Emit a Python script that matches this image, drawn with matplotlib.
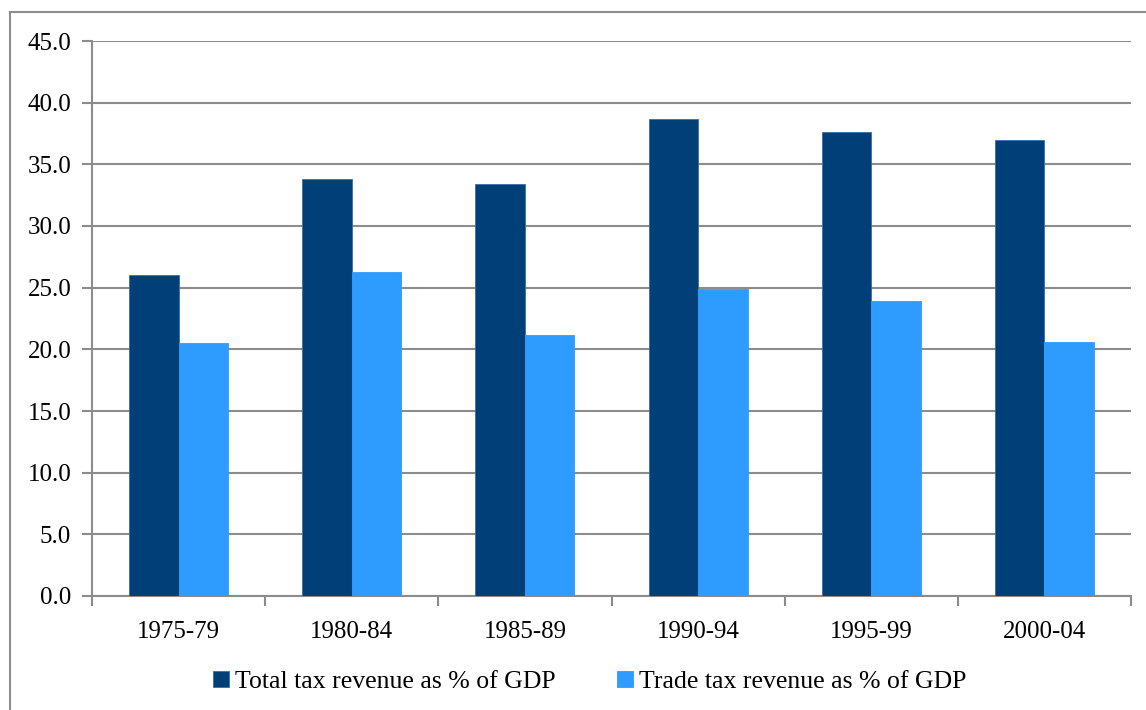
import numpy as np
import matplotlib.pyplot as plt
from matplotlib.lines import Line2D

periods = ["1975-79", "1980-84", "1985-89", "1990-94", "1995-99", "2000-04"]
total_tax = [26.0, 33.8, 33.4, 38.7, 37.6, 37.0]
trade_tax = [20.5, 26.3, 21.2, 24.9, 23.9, 20.6]

plt.rcParams['font.family'] = ['Liberation Serif', 'DejaVu Serif']

fig = plt.figure(figsize=(11.46, 7.10), dpi=100)
ax = fig.add_axes([92 / 1146, 1 - 596 / 710, (1131 - 92) / 1146, (596 - 41) / 710])

# outer chart frame (only left/top visible in the original crop)
fx, fy = 10 / 1146, 1 - 12 / 710
fig.lines.append(Line2D([fx, fx], [0, fy], transform=fig.transFigure, color='#8c8c8c', linewidth=1.5))
fig.lines.append(Line2D([fx, 1], [fy, fy], transform=fig.transFigure, color='#8c8c8c', linewidth=1.5))

x = np.arange(len(periods))
w = 0.286
ax.bar(x - w / 2, total_tax, w, color='#003F78', edgecolor='#3a6fa6', linewidth=0.6,
       label='Total tax revenue as % of GDP', zorder=3)
ax.bar(x + w / 2, trade_tax, w, color='#2E9BFF', edgecolor='#2E9BFF', linewidth=0.6,
       label='Trade tax revenue as % of GDP', zorder=3)

ax.set_xlim(-0.5, len(periods) - 0.5)
ax.set_ylim(0, 45)
ax.set_yticks(np.arange(0, 45.1, 5))
ax.set_yticklabels([f"{v:.1f}" for v in np.arange(0, 45.1, 5)])
ax.yaxis.grid(True, color='#8c8c8c', linewidth=1.5, zorder=0)
ax.set_axisbelow(True)

ax.set_xticks(x)
ax.set_xticklabels(periods)
ax.set_xticks(np.arange(-0.5, len(periods)), minor=True)
ax.tick_params(axis='x', which='major', length=0, pad=18, labelsize=18)
ax.tick_params(axis='x', which='minor', length=7, width=1.5, color='#8c8c8c')
ax.tick_params(axis='y', length=7, width=1.5, color='#8c8c8c', labelsize=18, pad=8)

for s in ['top', 'right']:
    ax.spines[s].set_visible(False)
for s in ['left', 'bottom']:
    ax.spines[s].set_color('#8c8c8c')
    ax.spines[s].set_linewidth(1.5)

fig.legend(loc='center', bbox_to_anchor=(590 / 1146, 1 - 682 / 710), ncol=2, frameon=False,
           fontsize=18.5, handlelength=0.6, handleheight=0.6, handletextpad=0.25, columnspacing=2.4)

fig.savefig('out.png', dpi=100)
